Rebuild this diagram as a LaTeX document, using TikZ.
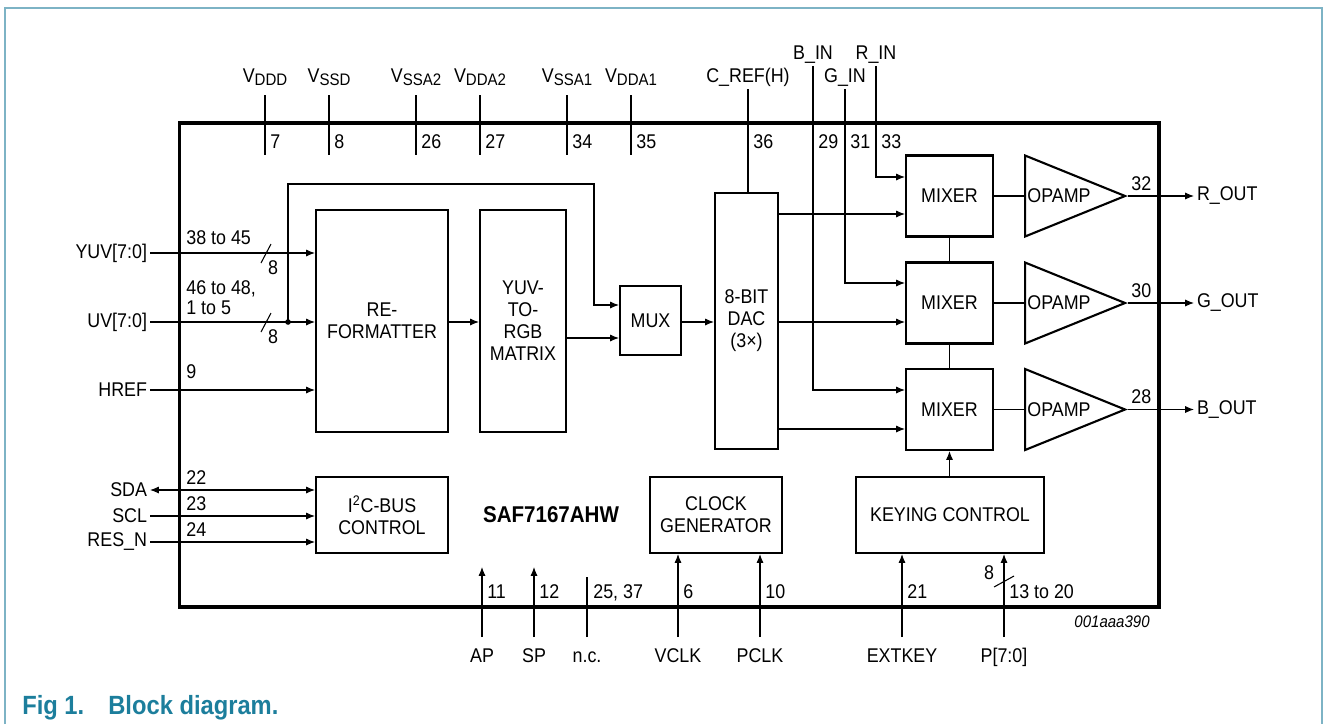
\documentclass[tikz,border=0pt]{standalone}
\usepackage{fontspec}
\setmainfont[FakeStretch=0.9]{Liberation Sans}
\usetikzlibrary{arrows.meta,shapes.geometric}

\newcommand{\vsub}[1]{\raisebox{-0.35ex}{\fontsize{9.5}{10}\selectfont #1}}
\definecolor{frameteal}{HTML}{7DB3C5}
\definecolor{capteal}{HTML}{1C7E9C}

\tikzset{
  blk/.style={draw, line width=1.2pt, inner sep=0pt, align=center},
  sig/.style={line width=0.6pt},
  arr/.style={sig, -{Latex[length=5pt,width=4pt]}},
  dblarr/.style={sig, {Latex[length=5pt,width=4pt]}-{Latex[length=5pt,width=4pt]}},
  pinno/.style={anchor=base west, inner sep=0pt},
  lbl/.style={inner sep=1.5pt},
  amp/.style={draw, line width=1.2pt, isosceles triangle, isosceles triangle stretches,
    inner sep=0pt, minimum width=1.62cm, minimum height=2cm, anchor=west},
}

\begin{document}
\begin{tikzpicture}[x=0.02cm, y=-0.02cm, font=\fontsize{11.3}{12.5}\selectfont]
\useasboundingbox (0,0) rectangle (1327,724);

% page frame
\draw[frameteal, line width=1.2pt] (5,724) -- (5,8) -- (1322,8) -- (1322,724);

% chip outline
\node[draw, line width=1.8pt, inner sep=0pt, minimum width=19.6cm, minimum height=9.68cm] (chip) at (669,365) {};

% video path
\node[blk, minimum width=2.64cm, minimum height=4.44cm] (refmt) at (382,321) {RE-\\FORMATTER};
\node[blk, minimum width=1.72cm, minimum height=4.44cm] (rgbmat) at (523,321) {YUV-\\TO-\\RGB\\MATRIX};
\node[blk, minimum width=1.22cm, minimum height=1.38cm] (mux) at (650.5,320.5) {MUX};
\node[blk, minimum width=1.26cm, minimum height=5.12cm] (dac) at (746.5,321) {8-BIT\\DAC\\(3×)};

% mixers, opamps, outputs
\foreach \c/\y/\p in {R/196/32, G/303/30, B/409.5/28} {
  \node[blk, minimum width=1.74cm, minimum height=1.62cm] (mix\c) at (949.5,\y) {MIXER};
  \node[amp] (op\c) at (1024,\y) {};
  \node[anchor=west, inner sep=0pt] (op\c t) at (1027,\y) {OPAMP};
  \node[lbl, anchor=west] (\c out) at (1194,\y) {\c\_OUT};
  \node[pinno] (pin\p) at (1131,\y-6) {\p};
  \draw[sig] (mix\c.east) -- (op\c.west);
  \draw[arr] (op\c.east) -- (\c out.west);
}
\draw[sig] (mixR.south) -- (mixG.north);
\draw[sig] (mixG.south) -- (mixB.north);

\draw[arr] (dac.east |- 0,214) -- (mixR.west |- 0,214);
\draw[arr] (dac.east |- 0,322) -- (mixG.west |- 0,322);
\draw[arr] (dac.east |- 0,429) -- (mixB.west |- 0,429);

% top pins
\foreach \x/\nm/\txt in {265/vddd/{V\vsub{DDD}}, 329/vssd/{V\vsub{SSD}}, 416/vssa2/{V\vsub{SSA2}},
    480/vdda2/{V\vsub{DDA2}}, 567/vssa1/{V\vsub{SSA1}}, 631/vdda1/{V\vsub{DDA1}}} {
  \node[lbl, anchor=base] (\nm) at (\x,82) {\txt};
  \draw[sig] (\x,95) -- (\x,155);
}
\node[lbl, anchor=base] (cref) at (748,82) {C\_REF(H)};
\node[lbl, anchor=base] (bin) at (813,59) {B\_IN};
\node[lbl, anchor=base] (gin) at (845,82) {G\_IN};
\node[lbl, anchor=base] (rin) at (876,59) {R\_IN};
\draw[sig] (cref.south) -- (cref.south |- dac.north);
\draw[arr] (bin.south) |- (mixB.west |- 0,390);
\draw[arr] (gin.south) |- (mixG.west |- 0,283);
\draw[arr] (rin.south) |- (mixR.west |- 0,177);
\foreach \x/\p in {265/7, 329/8, 416/26, 480/27, 567/34, 631/35, 748/36, 813/29, 845/31, 876/33}
  \node[pinno] (pin\p) at (\x+5,148) {\p};

% video inputs
\node[lbl, anchor=east] (yuv) at (150,253) {YUV[7:0]};
\node[lbl, anchor=east] (uv) at (150,322) {UV[7:0]};
\node[lbl, anchor=east] (href) at (150,390) {HREF};
\draw[arr] (yuv.east) -- (yuv.east -| refmt.west);
\draw[arr] (uv.east) -- (uv.east -| refmt.west);
\draw[arr] (href.east) -- (href.east -| refmt.west);
\foreach \y in {253,322} {
  \draw[sig] (261,\y+10) -- (271,\y-9);
  \node[inner sep=0pt] (bus\y) at (273,\y+15) {8};
}
\node[pinno] (pin38) at (186,244) {38 to 45};
\node[pinno] (pin46) at (186,294) {46 to 48,};
\node[pinno] (pin1) at (186,314) {1 to 5};
\node[pinno] (pin9) at (186,378) {9};

\coordinate (tap) at (288,322);
\fill (tap) circle[radius=2.8];
\draw[arr] (tap) |- (594,184) -- (594,305) -- (mux.west |- 0,305);
\draw[arr] (refmt.east |- 0,322) -- (rgbmat.west |- 0,322);
\draw[arr] (rgbmat.east |- 0,338) -- (mux.west |- 0,338);
\draw[arr] (mux.east |- 0,322) -- (dac.west |- 0,322);

% control blocks
\node[blk, minimum width=2.64cm, minimum height=1.52cm] (i2c) at (382,515) {I\textsuperscript{2}C-BUS\\CONTROL};
\node[blk, minimum width=2.64cm, minimum height=1.52cm] (clkgen) at (716,515) {CLOCK\\GENERATOR};
\node[blk, minimum width=3.76cm, minimum height=1.52cm] (keyctl) at (950,515) {KEYING CONTROL};
\node[font=\fontsize{13}{15}\selectfont\bfseries] (chipname) at (551,515) {SAF7167AHW};
\draw[arr] (mixB.south |- keyctl.north) -- (mixB.south);

\node[lbl, anchor=east] (sda) at (150,490) {SDA};
\node[lbl, anchor=east] (scl) at (150,516) {SCL};
\node[lbl, anchor=east] (resn) at (150,542) {RES\_N};
\draw[dblarr] (sda.east) -- (sda.east -| i2c.west);
\draw[arr] (scl.east) -- (scl.east -| i2c.west);
\draw[arr] (resn.east) -- (resn.east -| i2c.west);
\foreach \y/\p in {484/22, 510/23, 536/24}
  \node[pinno] (pin\p) at (186,\y) {\p};

% bottom pins
\foreach \x/\nm/\txt/\p in {482/ap/AP/11, 534/sp/SP/12} {
  \node[lbl, anchor=base] (\nm) at (\x,662) {\txt};
  \draw[arr] (\nm.north |- 0,637) -- (\nm.north |- 0,567);
  \node[pinno] (pin\p) at (\x+5,598) {\p};
}
\node[lbl, anchor=base] (nc) at (587,662) {n.c.};
\draw[sig] (nc.north |- 0,637) -- (nc.north |- 0,577);
\node[pinno] (pin25) at (593,598) {25, 37};
\foreach \x/\nm/\txt/\p/\dst in {678/vclk/VCLK/6/clkgen, 760/pclk/PCLK/10/clkgen,
    902/extkey/EXTKEY/21/keyctl, 1004/pbus/{P[7:0]}/13 to 20/keyctl} {
  \node[lbl, anchor=base] (\nm) at (\x,662) {\txt};
  \draw[arr] (\nm.north |- 0,637) -- (\nm.north |- \dst.south);
  \node[pinno] (pin\nm) at (\x+5,598) {\p};
}
\draw[sig] (994,587) -- (1014,576);
\node[inner sep=0pt] (bus8) at (989,573) {8};

\node[anchor=base east, inner sep=0pt, font=\fontsize{9.5}{10}\selectfont\itshape] (docid) at (1150,627) {001aaa390};

% caption
\node[anchor=base west, inner sep=0pt, text=capteal, font=\fontsize{15}{17}\selectfont\bfseries] (fig) at (22,714) {Fig 1.};
\node[anchor=base west, inner sep=0pt, text=capteal, font=\fontsize{15}{17}\selectfont\bfseries] (figtxt) at (108,714) {Block diagram.};
\end{tikzpicture}
\end{document}
